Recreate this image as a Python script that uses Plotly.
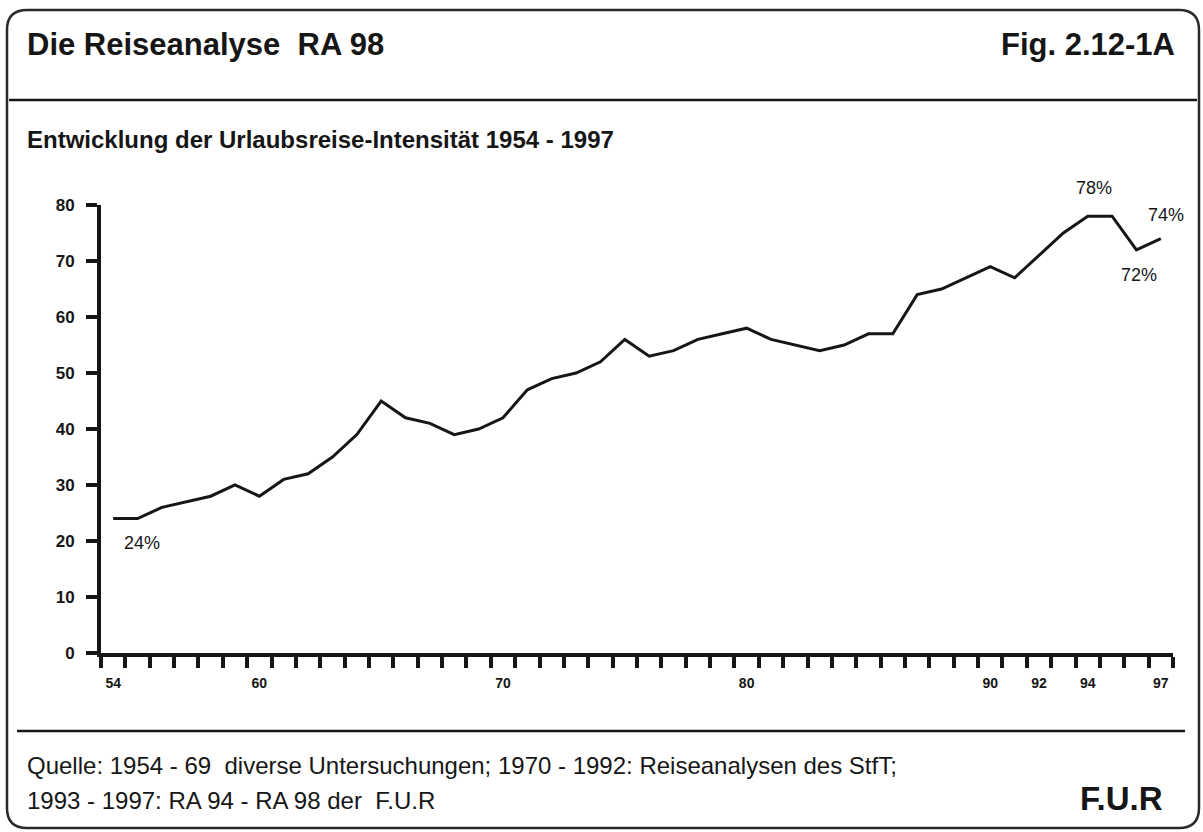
import plotly.graph_objects as go

# ---------------- data ----------------
years = list(range(54, 98))
intensity = [24, 24, 26, 27, 28, 30, 28, 31, 32, 35,
             39, 45, 42, 41, 39, 40, 42, 47, 49, 50,
             52, 56, 53, 54, 56, 57, 58, 56, 55, 54,
             55, 57, 57, 64, 65, 67, 69, 67, 71, 75,
             78, 78, 72, 74]
tick_years = [54, 60, 70, 80, 90, 92, 94, 97]
tick_labels = ["54", "60", "70", "80", "90", "92", "94", "97"]
y_ticks = [0, 10, 20, 30, 40, 50, 60, 70, 80]

# value labels: (year, text, xshift, yshift)
value_labels = [(54, "24%", 29, -24), (94, "78%", 6, 28),
                (96, "72%", 3, -25), (97, "74%", 5, 24)]

title = "Die Reiseanalyse  RA 98"
fig_no = "Fig. 2.12-1A"
subtitle = "Entwicklung der Urlaubsreise-Intensität 1954 - 1997"
source1 = "Quelle: 1954 - 69  diverse Untersuchungen; 1970 - 1992: Reiseanalysen des StfT;"
source2 = "1993 - 1997: RA 94 - RA 98 der  F.U.R"
brand = "F.U.R"

# ---------------- layout geometry (pixels) ----------------
W, H = 1203, 832
L, R, T, B = 101, 1173, 205, 653
FONT = "Liberation Sans, Arial, Helvetica, sans-serif"
INK = "#161616"


def pxx(px):
    return (px - L) / (R - L)


def pxy(py):
    return (B - py) / (B - T)


fig = go.Figure()
fig.add_trace(go.Scatter(
    x=years, y=intensity, mode="lines",
    line=dict(color=INK, width=3), hoverinfo="skip", showlegend=False,
    cliponaxis=False,
))

fig.update_xaxes(
    range=[years[0] - 0.5, years[-1] + 0.5],
    tickmode="array", tickvals=tick_years, ticktext=tick_labels,
    ticks="", showgrid=False, zeroline=False,
    showline=True, linewidth=4, linecolor=INK,
    tickfont=dict(family=FONT, size=14, color=INK, weight="bold"),
    minor=dict(ticks="outside", tick0=years[0] - 0.5, dtick=1,
               ticklen=11, tickwidth=4, tickcolor=INK, showgrid=False),
    ticklabelstandoff=14,
)
fig.update_yaxes(
    range=[0, 80], tickmode="array", tickvals=y_ticks,
    ticks="outside", ticklen=11, tickwidth=4, tickcolor=INK,
    showgrid=False, zeroline=False,
    showline=True, linewidth=4, linecolor=INK,
    tickfont=dict(family=FONT, size=17, color=INK, weight="bold"),
    ticklabelstandoff=8,
)

# value labels anchored at data points
lookup = dict(zip(years, intensity))
for yr, txt, dx, dy in value_labels:
    fig.add_annotation(x=yr, y=lookup[yr], xref="x", yref="y", text=txt,
                       showarrow=False, xshift=dx, yshift=dy,
                       font=dict(family=FONT, size=18, color=INK))

# frame: rounded rectangle
x0, x1, y0, y1, r = 7, 1199, 10, 828, 20
pts = [("M", x0 + r, y0), ("L", x1 - r, y0), ("Q", x1, y0, x1, y0 + r),
       ("L", x1, y1 - r), ("Q", x1, y1, x1 - r, y1), ("L", x0 + r, y1),
       ("Q", x0, y1, x0, y1 - r), ("L", x0, y0 + r), ("Q", x0, y0, x0 + r, y0)]
path = ""
for p in pts:
    cmd, coords = p[0], p[1:]
    conv = []
    for i in range(0, len(coords), 2):
        conv.append(f"{pxx(coords[i]):.5f},{pxy(coords[i + 1]):.5f}")
    path += cmd + " " + " ".join(conv) + " "
path += "Z"
fig.add_shape(type="path", path=path, xref="paper", yref="paper",
              line=dict(color="#2a2a2a", width=2.5), layer="above")

# separator lines
fig.add_shape(type="line", xref="paper", yref="paper",
              x0=pxx(9), x1=pxx(1197), y0=pxy(100), y1=pxy(100),
              line=dict(color=INK, width=2.5))
fig.add_shape(type="line", xref="paper", yref="paper",
              x0=pxx(17), x1=pxx(1185), y0=pxy(731), y1=pxy(731),
              line=dict(color=INK, width=2.5))

# texts
def txt(text, px, py, size, bold=False, anchor="left"):
    fig.add_annotation(x=pxx(px), y=pxy(py), xref="paper", yref="paper",
                       text=f"<b>{text}</b>" if bold else text,
                       showarrow=False, xanchor=anchor, yanchor="middle",
                       font=dict(family=FONT, size=size, color=INK))

txt(title, 25, 44, 31, bold=True)
txt(fig_no, 1177, 44, 31, bold=True, anchor="right")
txt(subtitle, 25, 139, 24, bold=True)
txt(source1, 25, 765, 24)
txt(source2, 25, 800, 24)
txt(brand, 1165, 798, 33, bold=True, anchor="right")

fig.update_layout(
    width=W, height=H,
    margin=dict(l=L, r=W - R, t=T, b=H - B, pad=0),
    paper_bgcolor="white", plot_bgcolor="white",
    showlegend=False,
)

fig.write_html("out.html",
               config={"displayModeBar": False, "staticPlot": True},
               post_script="document.body.style.margin='0';"
                           "document.body.style.overflow='hidden';")
